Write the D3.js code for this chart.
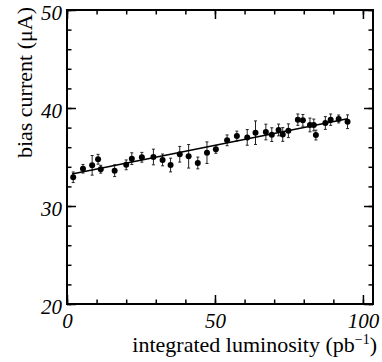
<!DOCTYPE html>
<html>
<head>
<meta charset="utf-8">
<script src="https://cdn.jsdelivr.net/npm/d3@7"></script>
<style>
  body { margin: 0; background: #fff; }
  svg { display: block; }
  .axis path { display: none; }
  .axis line { stroke: #000; stroke-width: 1.5px; }
</style>
</head>
<body>
<script>
const lumi = [2.1, 5.4, 8.5, 10.5, 11.4, 16.1, 20.0, 21.9, 25.3, 29.2, 32.3, 35.0, 38.1, 41.1, 44.2, 47.3, 50.3,
  54.1, 57.4, 60.9, 63.7, 67.2, 69.2, 71.5, 72.9, 74.8, 78.0, 79.7, 82.1, 83.4, 84.1, 87.3, 89.1, 91.8, 94.8];
const current = [32.93, 33.8, 34.15, 34.77, 33.75, 33.6, 34.2, 34.83, 34.97, 35.0, 34.7, 34.18, 35.28, 35.07, 34.39, 35.44, 35.78,
  36.7, 37.14, 37.0, 37.48, 37.55, 37.28, 37.76, 37.3, 37.68, 38.81, 38.74, 38.27, 38.27, 37.24, 38.47, 38.81, 38.88, 38.6];
const currentErr = [0.54, 0.44, 1.0, 0.5, 0.4, 0.6, 0.5, 0.6, 0.5, 0.8, 0.6, 0.7, 0.8, 1.2, 0.6, 1.1, 0.4,
  0.55, 0.5, 0.8, 1.2, 0.8, 0.7, 0.6, 0.7, 0.7, 0.58, 0.6, 0.7, 0.6, 0.5, 0.65, 0.58, 0.4, 0.7];

// straight-line fit drawn over the points
const fitIntercept = 33.17;
const fitSlope = 0.0605;
const fitRange = [1.7, 94.8];

const xMajorTicks = [0, 50, 100];
const yMajorTicks = [20, 30, 40, 50];

const w = 382, h = 362;
const padL = 67, padR = 373, padT = 10, padB = 304;
const serif = "'Liberation Serif'";

const xScale = d3.scaleLinear().domain([0, 103.4]).range([padL, padR]);
const yScale = d3.scaleLinear().domain([20, 50]).range([padB, padT]);

const svg = d3.select("body").append("svg")
  .attr("width", w)
  .attr("height", h);

const xMinor = d3.range(0, 104, 10);
const yMinor = d3.range(20, 50.1, 2);

// minor ticks on all four sides, pointing inward
svg.append("g").attr("class", "axis")
  .attr("transform", "translate(0," + padB + ")")
  .call(d3.axisBottom(xScale).tickValues(xMinor).tickSize(-4.5).tickFormat(""));
svg.append("g").attr("class", "axis")
  .attr("transform", "translate(0," + padT + ")")
  .call(d3.axisTop(xScale).tickValues(xMinor).tickSize(-4.5).tickFormat(""));
svg.append("g").attr("class", "axis")
  .attr("transform", "translate(" + padL + ",0)")
  .call(d3.axisLeft(yScale).tickValues(yMinor).tickSize(-4.5).tickFormat(""));
svg.append("g").attr("class", "axis")
  .attr("transform", "translate(" + padR + ",0)")
  .call(d3.axisRight(yScale).tickValues(yMinor).tickSize(-4.5).tickFormat(""));

// major ticks with labels
const xAxisG = svg.append("g").attr("class", "axis")
  .attr("transform", "translate(0," + padB + ")")
  .call(d3.axisBottom(xScale).tickValues(xMajorTicks).tickSize(-9).tickPadding(9).tickFormat(d3.format("d")));
svg.append("g").attr("class", "axis")
  .attr("transform", "translate(0," + padT + ")")
  .call(d3.axisTop(xScale).tickValues(xMajorTicks).tickSize(-9).tickFormat(""));
const yAxisG = svg.append("g").attr("class", "axis")
  .attr("transform", "translate(" + padL + ",0)")
  .call(d3.axisLeft(yScale).tickValues(yMajorTicks).tickSize(-9).tickPadding(5).tickFormat(d3.format("d")));
yAxisG.selectAll("text").attr("dy", "9px");
svg.append("g").attr("class", "axis")
  .attr("transform", "translate(" + padR + ",0)")
  .call(d3.axisRight(yScale).tickValues(yMajorTicks).tickSize(-9).tickFormat(""));

[xAxisG, yAxisG].forEach(g => g.selectAll("text")
  .style("font-family", serif)
  .style("font-style", "italic")
  .style("font-size", "21px")
  .attr("fill", "#000"));

// frame
svg.append("rect")
  .attr("x", padL).attr("y", padT)
  .attr("width", padR - padL).attr("height", padB - padT)
  .attr("fill", "none")
  .attr("stroke", "#000")
  .attr("stroke-width", 2);

const data = lumi.map((d, i) => ({x: d, y: current[i], e: currentErr[i]}));

// error bars
const bars = svg.append("g").attr("stroke", "#222").attr("stroke-width", 1);
bars.selectAll(".err")
  .data(data)
  .enter()
  .append("line")
  .attr("x1", d => xScale(d.x))
  .attr("x2", d => xScale(d.x))
  .attr("y1", d => yScale(d.y - d.e))
  .attr("y2", d => yScale(d.y + d.e));
bars.selectAll(".capTop")
  .data(data)
  .enter()
  .append("line")
  .attr("x1", d => xScale(d.x) - 1.5)
  .attr("x2", d => xScale(d.x) + 1.5)
  .attr("y1", d => yScale(d.y + d.e))
  .attr("y2", d => yScale(d.y + d.e));
bars.selectAll(".capBot")
  .data(data)
  .enter()
  .append("line")
  .attr("x1", d => xScale(d.x) - 1.5)
  .attr("x2", d => xScale(d.x) + 1.5)
  .attr("y1", d => yScale(d.y - d.e))
  .attr("y2", d => yScale(d.y - d.e));

// fit line
svg.append("line")
  .attr("x1", xScale(fitRange[0]))
  .attr("y1", yScale(fitIntercept + fitSlope * fitRange[0]))
  .attr("x2", xScale(fitRange[1]))
  .attr("y2", yScale(fitIntercept + fitSlope * fitRange[1]))
  .attr("stroke", "#000")
  .attr("stroke-width", 1.5);

svg.selectAll("circle")
  .data(data)
  .enter()
  .append("circle")
  .attr("cx", d => xScale(d.x))
  .attr("cy", d => yScale(d.y))
  .attr("r", 3)
  .attr("fill", "#000");

// axis titles
const xTitle = svg.append("text")
  .attr("x", 377)
  .attr("y", 352)
  .attr("text-anchor", "end")
  .style("font-family", serif)
  .style("font-size", "22px");
xTitle.append("tspan").text("integrated luminosity (pb");
xTitle.append("tspan").attr("dy", -8).style("font-size", "14px").text("\u22121");
xTitle.append("tspan").attr("dy", 8).text(")");

svg.append("text")
  .attr("transform", "translate(32,7) rotate(-90)")
  .attr("text-anchor", "end")
  .style("font-family", serif)
  .style("font-size", "22px")
  .text("bias current (\u03bcA)");
</script>
</body>
</html>
